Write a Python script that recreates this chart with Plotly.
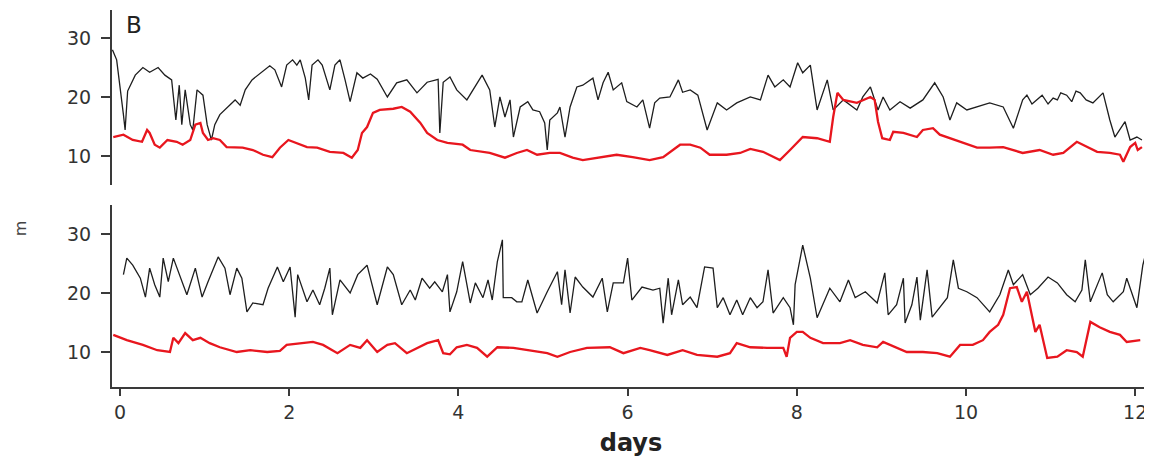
import plotly.graph_objects as go

# ---------------- data (days, value) ----------------
top_black_days = [-0.09,-0.04,0.04,0.06,0.09,0.18,0.27,0.35,0.45,0.53,0.61,0.66,0.70,0.73,0.77,0.83,0.86,0.91,0.98,1.03,
 1.08,1.12,1.18,1.24,1.30,1.36,1.42,1.48,1.56,1.63,1.71,1.77,1.83,1.91,1.97,2.04,2.09,2.13,2.19,2.23,
 2.27,2.34,2.39,2.48,2.54,2.60,2.66,2.72,2.80,2.87,2.96,3.04,3.16,3.27,3.39,3.51,3.63,3.76,3.78,3.82,
 3.90,3.98,4.10,4.28,4.37,4.43,4.49,4.55,4.61,4.65,4.73,4.82,4.88,4.96,5.02,5.05,5.08,5.17,5.20,5.26,
 5.32,5.40,5.47,5.59,5.65,5.71,5.77,5.83,5.93,5.99,6.11,6.18,6.26,6.32,6.38,6.50,6.60,6.65,6.74,6.83,
 6.94,7.06,7.17,7.29,7.45,7.57,7.66,7.74,7.84,7.92,8.01,8.07,8.16,8.24,8.36,8.43,8.55,8.71,8.78,8.87,
 8.96,9.02,9.10,9.22,9.34,9.49,9.63,9.73,9.81,9.89,10.01,10.13,10.28,10.44,10.56,10.67,10.72,10.78,10.84,10.90,
 10.97,11.03,11.08,11.12,11.19,11.25,11.30,11.35,11.42,11.50,11.62,11.70,11.76,11.88,11.94,12.02,12.08]
top_black = [28.0,26.3,17.0,14.4,21.0,23.7,25.0,24.2,25.0,23.7,22.9,16.1,22.0,15.3,21.2,15.3,14.4,21.2,20.3,15.3,
 12.7,15.3,17.0,17.8,18.6,19.5,18.6,21.2,22.9,23.7,24.6,25.3,24.6,21.7,25.4,26.3,25.4,26.3,23.2,19.5,
 25.4,26.3,25.4,21.2,25.4,26.3,22.9,19.2,24.1,23.2,23.9,23.0,20.0,22.4,22.9,20.7,22.5,23.0,13.9,22.5,
 23.4,21.2,19.5,23.7,21.2,14.9,20.0,16.6,19.5,13.2,18.3,19.2,17.8,17.5,15.6,11.0,16.1,17.3,18.3,13.2,
 18.3,21.7,22.0,23.2,19.5,22.4,24.2,21.2,22.4,19.2,18.3,19.5,14.7,19.0,19.8,20.0,22.9,20.8,21.2,20.3,
 14.4,19.0,17.8,19.0,20.0,19.5,23.7,21.7,22.9,21.7,25.8,24.1,25.4,17.8,22.9,17.8,19.5,17.8,20.0,21.7,
 17.8,20.0,17.8,19.2,18.1,19.5,22.4,20.0,16.1,19.0,17.8,18.3,19.0,18.3,14.7,19.5,20.3,18.8,19.5,20.3,
 18.8,19.8,19.5,20.7,20.3,19.2,21.0,20.7,19.5,19.0,20.7,16.1,13.2,15.8,12.7,13.2,12.7]

top_red_days = [-0.08,0.04,0.15,0.26,0.32,0.35,0.41,0.47,0.56,0.67,0.74,0.83,0.89,0.95,0.98,1.04,1.10,1.18,1.26,1.45,
 1.57,1.69,1.80,1.89,1.99,2.09,2.21,2.33,2.48,2.64,2.74,2.81,2.86,2.92,2.99,3.07,3.23,3.33,3.43,3.55,
 3.63,3.75,3.87,4.05,4.14,4.37,4.55,4.69,4.81,4.93,5.08,5.20,5.35,5.47,5.67,5.87,6.06,6.26,6.42,6.62,
 6.74,6.86,6.97,7.17,7.33,7.45,7.60,7.80,7.92,8.07,8.24,8.39,8.43,8.48,8.55,8.71,8.87,8.92,8.96,9.01,
 9.10,9.14,9.26,9.42,9.49,9.61,9.69,9.81,9.96,10.13,10.28,10.44,10.67,10.87,11.03,11.15,11.31,11.43,11.55,11.70,
 11.82,11.86,11.94,12.00,12.03,12.08]
top_red = [13.2,13.6,12.7,12.4,14.4,13.9,11.9,11.4,12.7,12.4,11.9,12.7,15.3,15.6,13.9,12.7,13.0,12.7,11.5,11.4,
 11.0,10.2,9.8,11.4,12.7,12.2,11.5,11.4,10.7,10.5,9.7,11.0,13.9,14.9,17.3,17.8,18.0,18.3,17.5,15.6,
 13.9,12.7,12.2,11.9,11.0,10.5,9.7,10.5,11.0,10.2,10.5,10.5,9.7,9.3,9.8,10.2,9.8,9.3,9.8,11.9,
 11.9,11.4,10.2,10.2,10.5,11.2,10.7,9.3,11.0,13.2,13.0,12.4,16.6,20.7,19.5,19.0,20.0,19.5,15.8,13.0,
 12.7,14.1,13.9,13.2,14.4,14.7,13.6,13.0,12.2,11.4,11.4,11.5,10.5,11.0,10.2,10.5,12.4,11.5,10.7,10.5,
 10.2,9.0,11.5,12.2,11.0,11.5]

bot_black_days = [0.04,0.08,0.15,0.24,0.30,0.35,0.41,0.47,0.51,0.57,0.63,0.69,0.79,0.89,0.97,1.04,1.16,1.24,1.30,1.38,
 1.44,1.50,1.57,1.69,1.75,1.86,1.93,2.01,2.07,2.10,2.21,2.28,2.36,2.42,2.48,2.51,2.60,2.72,2.81,2.92,
 3.04,3.16,3.23,3.33,3.43,3.49,3.57,3.66,3.72,3.81,3.87,3.90,3.98,4.05,4.14,4.20,4.29,4.35,4.40,4.46,
 4.52,4.53,4.63,4.69,4.75,4.82,4.93,5.05,5.17,5.22,5.26,5.32,5.38,5.47,5.59,5.70,5.76,5.83,5.95,6.00,
 6.05,6.17,6.30,6.38,6.42,6.48,6.52,6.60,6.65,6.74,6.82,6.91,7.01,7.06,7.13,7.21,7.29,7.36,7.45,7.53,
 7.60,7.66,7.72,7.84,7.92,7.96,7.98,8.07,8.16,8.24,8.39,8.51,8.61,8.69,8.81,8.95,9.04,9.08,9.18,9.26,
 9.28,9.36,9.42,9.46,9.54,9.60,9.69,9.78,9.85,9.91,10.01,10.13,10.28,10.40,10.50,10.56,10.67,10.76,10.85,10.97,
 11.08,11.19,11.29,11.37,11.41,11.47,11.61,11.67,11.74,11.86,11.90,12.02,12.09,12.15,12.20]
bot_black = [23.1,25.9,24.7,22.5,19.3,24.2,21.4,19.3,25.9,21.9,25.9,23.6,19.7,24.2,19.3,21.9,26.1,24.2,19.7,24.2,
 22.5,16.8,18.3,18.0,20.8,24.4,21.9,24.4,15.9,23.1,18.5,20.5,18.0,20.8,24.2,16.3,22.2,20.0,23.1,24.7,
 18.0,24.4,23.1,18.0,20.5,18.8,22.5,20.8,21.9,20.2,23.1,16.8,20.2,25.3,18.3,21.7,19.2,22.2,18.8,25.3,
 29.0,19.2,19.2,18.5,18.5,22.2,16.6,20.2,23.6,18.0,23.9,16.6,22.7,21.0,19.3,22.5,16.8,21.7,21.7,25.9,
 18.8,21.0,20.5,20.8,14.9,22.5,16.3,22.2,18.0,19.3,17.5,24.4,24.2,17.5,19.2,16.3,18.8,16.3,19.2,17.5,
 18.5,23.9,16.6,19.2,17.5,14.6,21.4,28.1,22.5,15.8,20.8,18.5,22.2,19.2,20.2,18.3,23.4,16.3,18.0,22.5,
 14.9,18.0,22.7,15.4,23.9,15.9,17.5,19.2,25.6,20.8,20.2,19.2,16.8,19.7,23.9,21.4,23.1,19.7,20.8,22.7,
 21.7,19.7,18.5,20.5,25.6,18.5,23.4,19.7,18.5,20.2,22.5,17.5,24.7,28.1,29.3]

bot_red_days = [-0.08,0.08,0.27,0.44,0.59,0.63,0.69,0.77,0.86,0.95,1.06,1.18,1.38,1.54,1.74,1.89,1.97,2.13,2.28,2.40,
 2.57,2.72,2.84,2.92,3.04,3.16,3.25,3.39,3.51,3.63,3.76,3.82,3.90,3.98,4.10,4.22,4.34,4.46,4.65,4.85,
 5.05,5.17,5.32,5.52,5.79,5.95,6.15,6.26,6.47,6.65,6.82,7.06,7.21,7.29,7.45,7.65,7.84,7.88,7.92,8.00,
 8.07,8.16,8.31,8.51,8.63,8.78,8.95,9.02,9.18,9.30,9.49,9.66,9.81,9.93,10.08,10.20,10.28,10.38,10.44,10.52,
 10.60,10.66,10.72,10.82,10.87,10.96,11.08,11.19,11.31,11.38,11.47,11.58,11.70,11.82,11.90,12.06]
bot_red = [12.9,12.0,11.2,10.3,10.0,12.4,11.5,13.2,12.0,12.4,11.5,10.8,10.0,10.3,10.0,10.2,11.2,11.5,11.7,11.2,
 9.8,11.2,10.7,12.0,10.0,11.2,11.5,9.8,10.7,11.5,12.0,9.8,9.6,10.8,11.2,10.7,9.2,10.8,10.7,10.3,
 9.8,9.2,10.0,10.7,10.8,9.8,10.7,10.3,9.5,10.3,9.5,9.2,9.8,11.5,10.8,10.7,10.7,9.2,12.4,13.4,
 13.4,12.4,11.5,11.5,12.0,11.2,10.8,11.7,10.8,10.0,10.0,9.8,9.2,11.2,11.2,12.0,13.4,14.6,16.3,20.8,
 21.0,18.5,20.2,13.4,14.6,9.0,9.2,10.3,10.0,9.2,15.1,14.2,13.4,12.9,11.7,12.0]

x_ticks = [0, 2, 4, 6, 8, 10, 12]
y_ticks = [10, 20, 30]

# ---------------- figure ----------------
BLACK = "#1e1e1e"
RED = "#e8161e"
FONT = "DejaVu Sans, Liberation Sans, Arial"
AX = "#3a3a3a"

fig = go.Figure()
fig.add_trace(go.Scatter(x=top_black_days, y=top_black, xaxis="x2", yaxis="y", mode="lines",
                         line=dict(color=BLACK, width=1.3)))
fig.add_trace(go.Scatter(x=top_red_days, y=top_red, xaxis="x2", yaxis="y", mode="lines",
                         line=dict(color=RED, width=2.3)))
fig.add_trace(go.Scatter(x=bot_black_days, y=bot_black, xaxis="x", yaxis="y2", mode="lines",
                         line=dict(color=BLACK, width=1.3)))
fig.add_trace(go.Scatter(x=bot_red_days, y=bot_red, xaxis="x", yaxis="y2", mode="lines",
                         line=dict(color=RED, width=2.3)))

yaxis_common = dict(tickvals=y_ticks, ticks="outside", ticklen=9, tickwidth=1.5, tickcolor=AX,
                    showline=True, linecolor=AX, linewidth=2, showgrid=False, zeroline=False,
                    tickfont=dict(family=FONT, size=19, color="#333333"), ticklabelstandoff=6)

# page body has an 8px default margin, so the figure is 8px smaller and margins 8px tighter
fig.update_layout(
    width=1144, height=458,
    margin=dict(l=104, r=2, t=2, b=79),
    paper_bgcolor="white", plot_bgcolor="white",
    showlegend=False,
    xaxis=dict(domain=[0, 1], range=[-0.095, 12.175], anchor="y2", tickvals=x_ticks,
               ticks="outside", ticklen=7, tickwidth=1.5, tickcolor=AX,
               showline=True, linecolor=AX, linewidth=2, showgrid=False, zeroline=False,
               ticklabeloverflow="allow",
               tickfont=dict(family=FONT, size=19, color="#333333"),
               title=dict(text="days", font=dict(family=FONT, size=24, color="#222222", weight="bold"),
                          standoff=12)),
    xaxis2=dict(domain=[0, 1], matches="x", anchor="y", visible=False),
    yaxis=dict(domain=[0.536, 1], range=[5.08, 34.75], anchor="x2", **yaxis_common),
    yaxis2=dict(domain=[0, 0.4828], range=[4.07, 34.9], anchor="x", **yaxis_common),
    annotations=[
        dict(text="B", xref="paper", yref="paper", x=0.012, y=1.0, xanchor="left", yanchor="top",
             showarrow=False, font=dict(family=FONT, size=23, color="#222222")),
        dict(text="m", xref="paper", yref="paper", x=-0.088, y=0.42, xanchor="center", yanchor="middle",
             textangle=-90, showarrow=False, font=dict(family=FONT, size=16, color="#444444")),
    ],
)

fig.write_html("out.html")
